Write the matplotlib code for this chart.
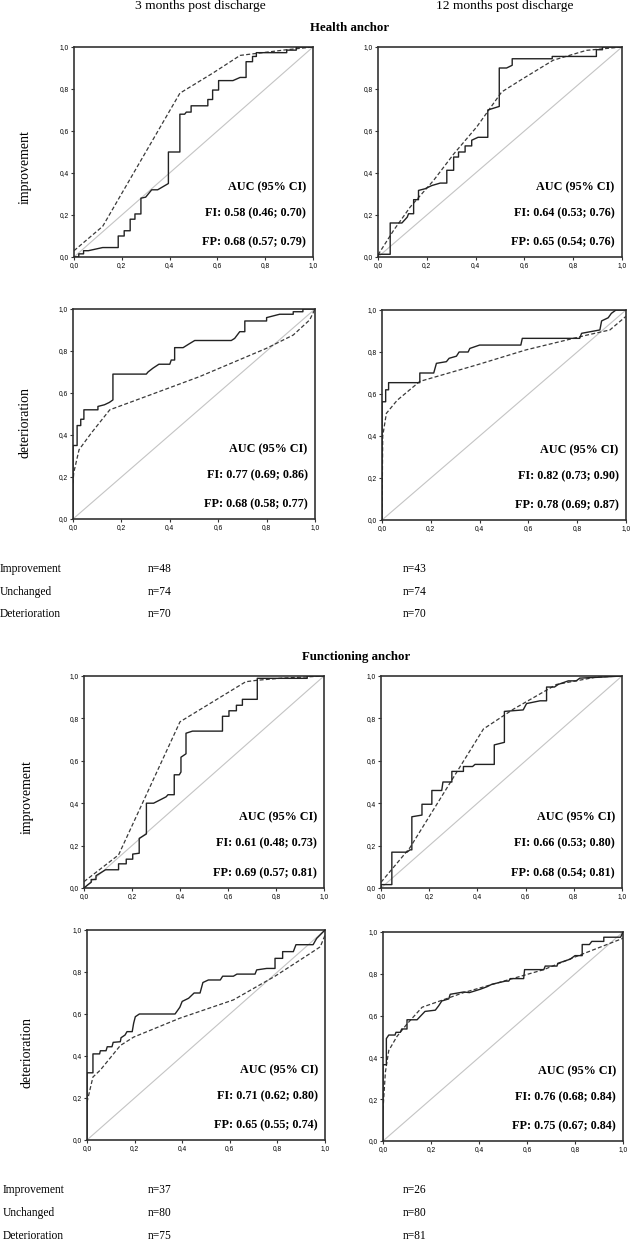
# ROC curves (FI solid, FP dashed) per anchor / follow-up, 2x2 blocks
import matplotlib.pyplot as plt

W, H = 630, 1240
SERIF = ["Liberation Serif", "DejaVu Serif"]
plt.rcParams["font.family"] = SERIF

# ---- data -----------------------------------------------------------------
# Health anchor, 3 months, improvement
H3_IMP_FI_X = [0, 0.02, 0.02, 0.04, 0.04, 0.06, 0.12, 0.185, 0.185, 0.21, 0.21, 0.235, 0.235, 0.255, 0.255, 0.28,
               0.28, 0.30, 0.325, 0.35, 0.395, 0.395, 0.443, 0.443, 0.463, 0.47, 0.49, 0.49, 0.56, 0.56, 0.58, 0.58,
               0.605, 0.605, 0.665, 0.695, 0.72, 0.72, 0.747, 0.747, 0.763, 0.763, 0.89, 0.89, 0.93, 0.93, 1.0]
H3_IMP_FI_Y = [0, 0, 0.015, 0.015, 0.03, 0.03, 0.045, 0.045, 0.1, 0.1, 0.125, 0.125, 0.18, 0.18, 0.205, 0.205,
               0.28, 0.285, 0.32, 0.32, 0.35, 0.5, 0.5, 0.68, 0.68, 0.69, 0.69, 0.72, 0.72, 0.75, 0.75, 0.795,
               0.795, 0.84, 0.84, 0.855, 0.855, 0.93, 0.93, 0.955, 0.955, 0.973, 0.973, 0.985, 0.985, 1.0, 1.0]
H3_IMP_FP_X = [0, 0.12, 0.443, 0.58, 0.695, 0.89, 1.0]
H3_IMP_FP_Y = [0.03, 0.146, 0.78, 0.875, 0.96, 0.987, 1.0]

# Health anchor, 12 months, improvement
H12_IMP_FI_X = [0, 0, 0.05, 0.05, 0.098, 0.12, 0.125, 0.146, 0.146, 0.166, 0.166, 0.193, 0.22, 0.255, 0.282, 0.282,
                0.31, 0.31, 0.33, 0.33, 0.357, 0.357, 0.384, 0.384, 0.41, 0.45, 0.45, 0.497, 0.497, 0.527, 0.55,
                0.55, 0.714, 0.714, 0.895, 0.895, 0.92, 0.92, 1.0]
H12_IMP_FI_Y = [0, 0.013, 0.013, 0.162, 0.162, 0.19, 0.206, 0.206, 0.273, 0.273, 0.317, 0.325, 0.34, 0.352, 0.352,
                0.413, 0.413, 0.476, 0.476, 0.5, 0.5, 0.529, 0.529, 0.556, 0.57, 0.57, 0.70, 0.717, 0.9, 0.9, 0.913,
                0.944, 0.944, 0.955, 0.955, 0.987, 0.987, 1.0, 1.0]
H12_IMP_FP_X = [0, 0.064, 0.132, 0.228, 0.31, 0.405, 0.507, 0.595, 0.718, 0.854, 1.0]
H12_IMP_FP_Y = [0.01, 0.127, 0.238, 0.365, 0.49, 0.62, 0.786, 0.85, 0.937, 0.984, 1.0]

# Health anchor, 3 months, deterioration
H3_DET_FI_X = [0, 0, 0.017, 0.017, 0.032, 0.032, 0.045, 0.045, 0.103, 0.103, 0.13, 0.15, 0.165, 0.165, 0.303, 0.31,
               0.33, 0.355, 0.40, 0.406, 0.42, 0.42, 0.455, 0.48, 0.503, 0.654, 0.668, 0.689, 0.71, 0.71, 0.80, 0.80,
               0.854, 0.91, 0.91, 0.95, 0.95, 1.0]
H3_DET_FI_Y = [0, 0.35, 0.35, 0.445, 0.445, 0.475, 0.475, 0.52, 0.52, 0.536, 0.544, 0.555, 0.567, 0.69, 0.69, 0.70,
               0.718, 0.737, 0.737, 0.757, 0.757, 0.816, 0.816, 0.834, 0.85, 0.85, 0.86, 0.892, 0.892, 0.943, 0.943,
               0.959, 0.975, 0.975, 0.987, 0.987, 1.0, 1.0]
H3_DET_FP_X = [0, 0.003, 0.025, 0.076, 0.152, 0.317, 0.523, 0.8, 0.91, 0.978, 1.0]
H3_DET_FP_Y = [0.17, 0.22, 0.33, 0.41, 0.52, 0.59, 0.678, 0.813, 0.876, 0.948, 1.0]

# Health anchor, 12 months, deterioration
H12_DET_FI_X = [0, 0, 0.015, 0.015, 0.027, 0.027, 0.155, 0.155, 0.212, 0.223, 0.264, 0.275, 0.305, 0.316, 0.353,
                0.36, 0.40, 0.569, 0.575, 0.81, 0.818, 0.893, 0.90, 0.927, 0.94, 0.959, 1.0]
H12_DET_FI_Y = [0, 0.563, 0.563, 0.62, 0.62, 0.654, 0.654, 0.70, 0.70, 0.746, 0.754, 0.77, 0.78, 0.80, 0.80,
                0.817, 0.833, 0.833, 0.865, 0.865, 0.889, 0.905, 0.948, 0.963, 0.984, 1.0, 1.0]
H12_DET_FP_X = [0, 0.003, 0.018, 0.062, 0.155, 0.387, 0.59, 0.838, 0.934, 1.0]
H12_DET_FP_Y = [0, 0.40, 0.508, 0.57, 0.66, 0.738, 0.81, 0.88, 0.905, 0.97]

# Functioning anchor, 3 months, improvement
F3_IMP_FI_X = [0, 0.017, 0.03, 0.03, 0.05, 0.05, 0.09, 0.144, 0.144, 0.176, 0.176, 0.203, 0.203, 0.23, 0.23, 0.26,
               0.26, 0.29, 0.342, 0.35, 0.376, 0.376, 0.397, 0.404, 0.404, 0.425, 0.425, 0.452, 0.577, 0.577, 0.604,
               0.604, 0.635, 0.635, 0.66, 0.66, 0.722, 0.722, 0.93, 0.93, 1.0]
F3_IMP_FI_Y = [0, 0.016, 0.027, 0.04, 0.04, 0.058, 0.086, 0.086, 0.114, 0.114, 0.136, 0.136, 0.16, 0.164, 0.234,
               0.255, 0.40, 0.40, 0.43, 0.44, 0.44, 0.534, 0.534, 0.547, 0.617, 0.633, 0.73, 0.74, 0.74, 0.81, 0.81,
               0.836, 0.836, 0.862, 0.862, 0.89, 0.89, 0.989, 0.989, 1.0, 1.0]
F3_IMP_FP_X = [0, 0.144, 0.40, 0.674, 0.722, 0.826, 1.0]
F3_IMP_FP_Y = [0.03, 0.156, 0.784, 0.973, 0.98, 0.99, 1.0]

# Functioning anchor, 12 months, improvement
F12_IMP_FI_X = [0, 0, 0.045, 0.045, 0.108, 0.12, 0.128, 0.128, 0.17, 0.17, 0.211, 0.211, 0.252, 0.257, 0.294, 0.294,
                0.342, 0.342, 0.38, 0.39, 0.47, 0.47, 0.512, 0.512, 0.59, 0.604, 0.66, 0.687, 0.687, 0.72, 0.735,
                0.777, 0.81, 0.825, 0.92, 1.0]
F12_IMP_FI_Y = [0, 0.016, 0.016, 0.169, 0.169, 0.18, 0.18, 0.336, 0.344, 0.395, 0.395, 0.46, 0.46, 0.5, 0.5, 0.55,
                0.55, 0.573, 0.573, 0.583, 0.583, 0.675, 0.687, 0.833, 0.84, 0.87, 0.883, 0.883, 0.948, 0.948, 0.96,
                0.977, 0.977, 0.99, 0.995, 1.0]
F12_IMP_FP_X = [0, 0.12, 0.425, 0.55, 0.728, 0.894, 1.0]
F12_IMP_FP_Y = [0.027, 0.19, 0.75, 0.844, 0.96, 0.995, 1.0]

# Functioning anchor, 3 months, deterioration
F3_DET_FI_X = [0, 0, 0.025, 0.025, 0.053, 0.056, 0.08, 0.085, 0.105, 0.11, 0.14, 0.143, 0.16, 0.168, 0.19, 0.196,
               0.203, 0.22, 0.37, 0.39, 0.40, 0.427, 0.45, 0.475, 0.487, 0.51, 0.56, 0.57, 0.615, 0.63, 0.706, 0.713,
               0.755, 0.79, 0.79, 0.822, 0.822, 0.867, 0.878, 0.95, 0.965, 0.986, 1.0]
F3_DET_FI_Y = [0, 0.32, 0.32, 0.41, 0.41, 0.425, 0.425, 0.444, 0.444, 0.465, 0.468, 0.487, 0.5, 0.516, 0.516, 0.556,
               0.587, 0.6, 0.6, 0.632, 0.66, 0.675, 0.70, 0.70, 0.75, 0.762, 0.762, 0.78, 0.78, 0.79, 0.79, 0.81,
               0.817, 0.817, 0.865, 0.865, 0.897, 0.897, 0.93, 0.93, 0.96, 0.984, 1.0]
F3_DET_FP_X = [0, 0.025, 0.056, 0.14, 0.196, 0.39, 0.615, 0.79, 0.94, 0.98, 1.0]
F3_DET_FP_Y = [0.18, 0.30, 0.333, 0.45, 0.49, 0.58, 0.667, 0.78, 0.89, 0.92, 0.975]

# Functioning anchor, 12 months, deterioration
F12_DET_FI_X = [0, 0, 0.014, 0.014, 0.024, 0.05, 0.054, 0.072, 0.078, 0.10, 0.10, 0.142, 0.155, 0.175, 0.218, 0.232,
                0.245, 0.274, 0.28, 0.336, 0.36, 0.405, 0.433, 0.454, 0.51, 0.524, 0.53, 0.586, 0.59, 0.67, 0.676,
                0.725, 0.728, 0.78, 0.80, 0.83, 0.83, 0.86, 0.87, 0.92, 0.92, 0.99, 1.0]
F12_DET_FI_Y = [0, 0.365, 0.365, 0.49, 0.507, 0.507, 0.52, 0.52, 0.536, 0.536, 0.58, 0.58, 0.596, 0.62, 0.626,
                0.647, 0.67, 0.68, 0.702, 0.713, 0.71, 0.726, 0.738, 0.75, 0.765, 0.765, 0.777, 0.777, 0.82, 0.82,
                0.837, 0.837, 0.85, 0.87, 0.887, 0.887, 0.94, 0.94, 0.955, 0.955, 0.975, 0.975, 1.0]
F12_DET_FP_X = [0, 0.01, 0.024, 0.058, 0.10, 0.163, 0.336, 0.503, 0.67, 0.81, 1.0]
F12_DET_FP_Y = [0.15, 0.33, 0.433, 0.50, 0.56, 0.64, 0.71, 0.765, 0.82, 0.885, 0.97]

AUC_FI = ["0.58 (0.46; 0.70)", "0.64 (0.53; 0.76)", "0.77 (0.69; 0.86)", "0.82 (0.73; 0.90)",
          "0.61 (0.48; 0.73)", "0.66 (0.53; 0.80)", "0.71 (0.62; 0.80)", "0.76 (0.68; 0.84)"]
AUC_FP = ["0.68 (0.57; 0.79)", "0.65 (0.54; 0.76)", "0.68 (0.58; 0.77)", "0.78 (0.69; 0.87)",
          "0.69 (0.57; 0.81)", "0.68 (0.54; 0.81)", "0.65 (0.55; 0.74)", "0.75 (0.67; 0.84)"]

GROUPS = ["Improvement", "Unchanged", "Deterioration"]
N_HEALTH_3 = [48, 74, 70]
N_HEALTH_12 = [43, 74, 70]
N_FUNC_3 = [37, 80, 75]
N_FUNC_12 = [26, 80, 81]

TICKS = [0, 0.2, 0.4, 0.6, 0.8, 1.0]
TICK_LABELS = ["0,0", "0,2", "0,4", "0,6", "0,8", "1,0"]

# ---- figure ---------------------------------------------------------------
fig = plt.figure(figsize=(W / 100, H / 100), dpi=100)


def px_text(x, y, s, **kw):
    fig.text(x / W, 1 - y / H, s, **kw)


def roc_panel(box, fi_x, fi_y, fp_x, fp_y, fi_txt, fp_txt):
    l, t, r, b = box
    ax = fig.add_axes([l / W, 1 - b / H, (r - l) / W, (b - t) / H])
    ax.plot([0, 1], [0, 1], color="#c4c4c4", lw=0.8, zorder=1)
    ax.plot(fp_x, fp_y, color="#3a3a3a", lw=0.9, ls=(0, (3.2, 1.8)), zorder=2)
    ax.plot(fi_x, fi_y, color="#222222", lw=1.0, zorder=3)
    ax.set_xlim(0, 1)
    ax.set_ylim(0, 1)
    ax.set_xticks(TICKS)
    ax.set_yticks(TICKS)
    ax.set_xticklabels(TICK_LABELS)
    ax.set_yticklabels(TICK_LABELS)
    ax.tick_params(length=2.5, width=0.8, pad=1, labelsize=4.8, color="#333333")
    for lab in ax.get_xticklabels() + ax.get_yticklabels():
        lab.set_family(["Liberation Sans", "DejaVu Sans"])
    for sp in ax.spines.values():
        sp.set_color("#333333")
        sp.set_linewidth(1.2)
    kw = dict(transform=ax.transAxes, ha="right", va="center", fontsize=8.7, fontweight="bold")
    ax.text(0.97, 0.333, "AUC (95% CI)", **kw)
    ax.text(0.97, 0.21, "FI: " + fi_txt, **kw)
    ax.text(0.97, 0.071, "FP: " + fp_txt, **kw)
    return ax


roc_panel((74, 47, 313, 257), H3_IMP_FI_X, H3_IMP_FI_Y, H3_IMP_FP_X, H3_IMP_FP_Y, AUC_FI[0], AUC_FP[0])
roc_panel((378, 47, 622, 257), H12_IMP_FI_X, H12_IMP_FI_Y, H12_IMP_FP_X, H12_IMP_FP_Y, AUC_FI[1], AUC_FP[1])
roc_panel((73, 309, 315, 519), H3_DET_FI_X, H3_DET_FI_Y, H3_DET_FP_X, H3_DET_FP_Y, AUC_FI[2], AUC_FP[2])
roc_panel((382, 310, 626, 520), H12_DET_FI_X, H12_DET_FI_Y, H12_DET_FP_X, H12_DET_FP_Y, AUC_FI[3], AUC_FP[3])
roc_panel((84, 676, 324, 888), F3_IMP_FI_X, F3_IMP_FI_Y, F3_IMP_FP_X, F3_IMP_FP_Y, AUC_FI[4], AUC_FP[4])
roc_panel((381, 676, 622, 888), F12_IMP_FI_X, F12_IMP_FI_Y, F12_IMP_FP_X, F12_IMP_FP_Y, AUC_FI[5], AUC_FP[5])
roc_panel((87, 930, 325, 1140), F3_DET_FI_X, F3_DET_FI_Y, F3_DET_FP_X, F3_DET_FP_Y, AUC_FI[6], AUC_FP[6])
roc_panel((383, 932, 623, 1141), F12_DET_FI_X, F12_DET_FI_Y, F12_DET_FP_X, F12_DET_FP_Y, AUC_FI[7], AUC_FP[7])

# column / block titles
px_text(200, 6, "3 months post discharge", ha="center", va="center", fontsize=9.7)
px_text(505, 6, "12 months post discharge", ha="center", va="center", fontsize=9.7)
px_text(350, 28, "Health anchor", ha="center", va="center", fontsize=9.3, fontweight="bold")
px_text(356, 657, "Functioning anchor", ha="center", va="center", fontsize=9.3, fontweight="bold")

# row labels
px_text(25, 167, "improvement", rotation=90, ha="center", va="center", fontsize=10)
px_text(25, 423, "deterioration", rotation=90, ha="center", va="center", fontsize=10)
px_text(27, 797, "improvement", rotation=90, ha="center", va="center", fontsize=10)
px_text(27, 1052, "deterioration", rotation=90, ha="center", va="center", fontsize=10)

# group sizes
for i, g in enumerate(GROUPS):
    yb = 572 + 22.5 * i
    px_text(0, yb, g, ha="left", va="baseline", fontsize=8.3)
    px_text(148, yb, f"n={N_HEALTH_3[i]}", ha="left", va="baseline", fontsize=8.3)
    px_text(403, yb, f"n={N_HEALTH_12[i]}", ha="left", va="baseline", fontsize=8.3)
    yb = 1193 + 23 * i
    px_text(3, yb, g, ha="left", va="baseline", fontsize=8.3)
    px_text(148, yb, f"n={N_FUNC_3[i]}", ha="left", va="baseline", fontsize=8.3)
    px_text(403, yb, f"n={N_FUNC_12[i]}", ha="left", va="baseline", fontsize=8.3)

fig.savefig("out.png", dpi=100)
